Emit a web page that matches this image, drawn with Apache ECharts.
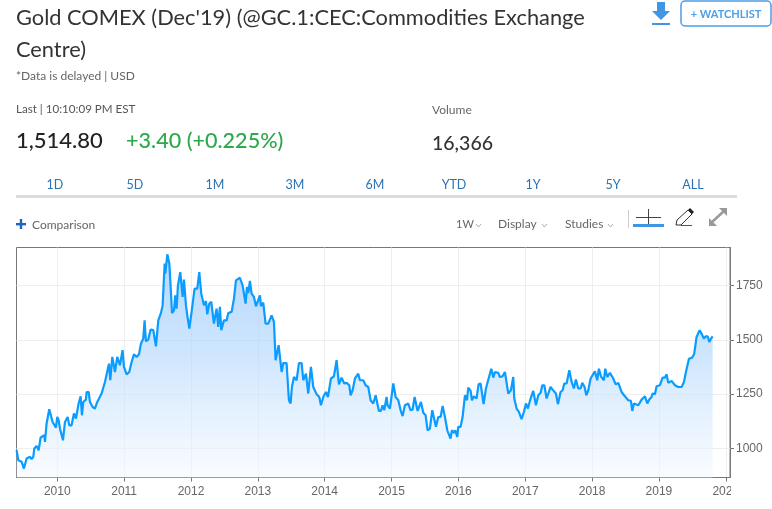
<!DOCTYPE html>
<html>
<head>
<meta charset="utf-8">
<title>Gold COMEX</title>
<script src="https://cdn.jsdelivr.net/npm/echarts@6/dist/echarts.min.js"></script>
<style>
html, body { margin: 0; padding: 0; background: #fff; }
#main { width: 772px; height: 509px; }
</style>
</head>
<body>
<div id="main"></div>
<script>
// position in decimal years, price in USD
var years2009 = [2009.392,2009.417,2009.467,2009.501,2009.541,2009.591,2009.616,2009.641,2009.656,2009.691,2009.721,2009.751,2009.806,2009.816,2009.840,2009.880,2009.905,2009.930,2009.980];
var closes2009 = [992,946,939,908,954,962,951,962,1000,1012,992,1051,1061,1031,1115,1181,1173,1122,1096];
var years2010 = [2010.000,2010.020,2010.040,2010.065,2010.085,2010.115,2010.155,2010.179,2010.214,2010.249,2010.279,2010.319,2010.349,2010.369,2010.389,2010.429,2010.439,2010.469,2010.489,2010.529,2010.563,2010.598,2010.663,2010.713,2010.773,2010.793,2010.823,2010.863,2010.897,2010.937,2010.977,2010.997];
var closes2010 = [1145,1130,1092,1084,1038,1122,1145,1107,1107,1161,1138,1207,1240,1153,1214,1225,1260,1260,1214,1191,1184,1214,1253,1306,1390,1314,1421,1352,1421,1383,1452,1375];
var years2011 = [2011.037,2011.077,2011.112,2011.147,2011.187,2011.222,2011.251,2011.286,2011.306,2011.326,2011.361,2011.396,2011.436,2011.476,2011.511,2011.551,2011.576,2011.606,2011.616,2011.646,2011.676,2011.696,2011.716,2011.746,2011.765,2011.785,2011.805,2011.840,2011.875,2011.895,2011.925,2011.945,2011.975];
var closes2011 = [1341,1352,1398,1433,1421,1433,1482,1505,1589,1493,1501,1547,1544,1470,1589,1623,1658,1850,1804,1893,1850,1743,1623,1635,1704,1643,1750,1811,1697,1776,1658,1612,1551];
var years2012 = [2012.009,2012.054,2012.094,2012.124,2012.154,2012.194,2012.224,2012.244,2012.274,2012.304,2012.343,2012.383,2012.408,2012.433,2012.453,2012.493,2012.533,2012.558,2012.608,2012.643,2012.673,2012.732,2012.772,2012.817,2012.837,2012.857,2012.882,2012.907,2012.942,2012.972,2012.997];
var closes2012 = [1628,1735,1735,1811,1712,1658,1678,1617,1666,1674,1574,1643,1559,1651,1544,1589,1589,1623,1628,1689,1773,1785,1750,1666,1743,1715,1770,1712,1697,1654,1651];
var years2013 = [2013.032,2013.046,2013.081,2013.116,2013.156,2013.206,2013.241,2013.266,2013.311,2013.356,2013.381,2013.430,2013.465,2013.490,2013.510,2013.540,2013.580,2013.615,2013.655,2013.680,2013.720,2013.754,2013.794,2013.829,2013.854,2013.879,2013.919,2013.944,2013.979];
var closes2013 = [1704,1655,1671,1574,1574,1612,1582,1406,1475,1352,1393,1393,1222,1207,1283,1329,1314,1393,1393,1314,1344,1253,1375,1283,1291,1250,1237,1199,1237];
var years2014 = [2014.019,2014.049,2014.094,2014.138,2014.178,2014.213,2014.253,2014.293,2014.328,2014.368,2014.388,2014.418,2014.453,2014.502,2014.527,2014.577,2014.612,2014.652,2014.687,2014.727,2014.762,2014.787,2014.811,2014.841,2014.866,2014.891,2014.926,2014.941,2014.976];
var closes2014 = [1260,1237,1322,1332,1406,1295,1326,1299,1302,1291,1245,1268,1322,1344,1314,1314,1291,1283,1222,1207,1245,1237,1173,1173,1199,1176,1237,1199,1184];
var years2015 = [2015.026,2015.061,2015.101,2015.136,2015.165,2015.200,2015.250,2015.285,2015.315,2015.345,2015.390,2015.440,2015.475,2015.510,2015.539,2015.574,2015.609,2015.664,2015.699,2015.734,2015.764,2015.799,2015.834,2015.883,2015.903,2015.933,2015.953,2015.983,2015.998];
var closes2015 = [1299,1237,1222,1176,1149,1199,1207,1176,1179,1237,1173,1214,1165,1153,1084,1092,1176,1100,1145,1145,1196,1145,1084,1046,1084,1072,1084,1054,1100];
var years2016 = [2016.033,2016.063,2016.098,2016.128,2016.148,2016.183,2016.203,2016.233,2016.272,2016.302,2016.332,2016.377,2016.412,2016.452,2016.492,2016.522,2016.547,2016.596,2016.621,2016.661,2016.696,2016.746,2016.786,2016.821,2016.836,2016.871,2016.906,2016.945,2016.980];
var closes2016 = [1100,1145,1245,1222,1280,1265,1222,1240,1230,1295,1299,1204,1276,1322,1367,1326,1352,1348,1329,1332,1352,1253,1268,1329,1230,1184,1168,1135,1168];
var years2017 = [2017.010,2017.040,2017.080,2017.120,2017.160,2017.195,2017.230,2017.255,2017.285,2017.320,2017.349,2017.379,2017.409,2017.459,2017.489,2017.529,2017.559,2017.584,2017.619,2017.659,2017.694,2017.728,2017.758,2017.793,2017.828,2017.853,2017.888,2017.913,2017.943,2017.978];
var closes2017 = [1207,1184,1230,1265,1199,1245,1256,1291,1291,1230,1234,1283,1271,1253,1204,1260,1268,1299,1299,1360,1306,1276,1317,1276,1276,1302,1283,1245,1268,1322];
var years2018 = [2018.042,2018.077,2018.102,2018.132,2018.177,2018.197,2018.227,2018.267,2018.317,2018.352,2018.392,2018.441,2018.491,2018.541,2018.581,2018.601,2018.626,2018.691,2018.741,2018.791,2018.826,2018.855,2018.890,2018.905,2018.940,2018.965];
var closes2018 = [1355,1314,1367,1332,1314,1367,1329,1348,1322,1295,1302,1260,1240,1222,1219,1173,1207,1199,1225,1240,1207,1225,1237,1253,1250,1286];
var years2019 = [2019.015,2019.055,2019.090,2019.115,2019.139,2019.189,2019.239,2019.289,2019.339,2019.374,2019.404,2019.424,2019.449,2019.473,2019.498,2019.528,2019.563,2019.608,2019.638,2019.673,2019.698,2019.728,2019.753,2019.778,2019.803];
var closes2019 = [1291,1326,1326,1341,1302,1311,1291,1283,1283,1306,1352,1352,1413,1421,1418,1436,1513,1544,1528,1505,1516,1516,1490,1505,1516];

var yearTicks = [2010, 2011, 2012, 2013, 2014, 2015, 2016, 2017, 2018, 2019, 2020];
var priceTicks = [1000, 1250, 1500, 1750];
var rangeTabs = ['1D', '5D', '1M', '3M', '6M', 'YTD', '1Y', '5Y', 'ALL'];
var tabCenters = [55, 135, 215, 295, 375, 454, 533, 613, 693];

var allYears = [].concat(years2009, years2010, years2011, years2012, years2013, years2014, years2015, years2016, years2017, years2018, years2019);
var allCloses = [].concat(closes2009, closes2010, closes2011, closes2012, closes2013, closes2014, closes2015, closes2016, closes2017, closes2018, closes2019);
var seriesData = allYears.map(function (y, i) { return [y, allCloses[i]]; });

var uiFont = 'Lato, "Open Sans", sans-serif';
var axisFont = '"Liberation Sans", Arial, sans-serif';

function label(text, x, y, size, color, align, weight) {
    return {
        type: 'text', x: x, y: y, silent: true, z: 10,
        style: {
            text: text, fill: color, fontFamily: uiFont, fontSize: size,
            fontWeight: weight || 'normal', textAlign: align || 'left', textVerticalAlign: 'middle'
        }
    };
}
function chevron(x, y) {
    return {
        type: 'polyline', silent: true, z: 10,
        shape: { points: [[x, y], [x + 2.5, y + 3], [x + 5, y]] },
        style: { stroke: '#aaa', lineWidth: 1, fill: null }
    };
}

var header = [
    label("Gold COMEX (Dec'19) (@GC.1:CEC:Commodities Exchange", 16, 18, 21.8, '#333'),
    label('Centre)', 16, 50, 21.8, '#333'),
    label('*Data is delayed | USD', 16, 76, 12, '#666'),
    label('Last | 10:10:09 PM EST', 16, 109, 11.6, '#555'),
    label('Volume', 432, 110, 12, '#666'),
    label('1,514.80', 16, 141, 22, '#222', 'left', 500),
    label('+3.40 (+0.225%)', 126, 141, 21.6, '#2ea84a', 'left', 500),
    label('16,366', 432, 144, 19.5, '#333', 'left', 500),
    label('+ WATCHLIST', 726, 14, 11, '#4a9fe8', 'center', 'bold'),
    // watchlist button
    { type: 'rect', silent: true, shape: { x: 681, y: 1, width: 90, height: 25, r: 4 }, style: { fill: null, stroke: '#4a9fe8', lineWidth: 1.5 } },
    // download icon
    { type: 'polygon', silent: true, shape: { points: [[657, 2], [665, 2], [665, 11], [670, 11], [661, 20], [652, 11], [657, 11]] }, style: { fill: '#3f97e4' } },
    { type: 'rect', silent: true, shape: { x: 652, y: 23, width: 18, height: 2 }, style: { fill: '#3f97e4' } },
    // tab underline
    { type: 'rect', silent: true, shape: { x: 16, y: 195, width: 721, height: 3 }, style: { fill: '#dcdcdc' } },
    // comparison plus
    { type: 'rect', silent: true, shape: { x: 16, y: 223, width: 10, height: 2.4 }, style: { fill: '#1f62c4' } },
    { type: 'rect', silent: true, shape: { x: 19.8, y: 219, width: 2.4, height: 10 }, style: { fill: '#1f62c4' } },
    label('Comparison', 32, 225, 12, '#666'),
    label('1W', 456, 224, 11, '#666'), chevron(476, 224),
    label('Display', 498, 224, 12, '#666'), chevron(542, 224),
    label('Studies', 565, 224, 12, '#666'), chevron(608, 224),
    // crosshair tool
    { type: 'rect', silent: true, shape: { x: 628, y: 210, width: 1, height: 18 }, style: { fill: '#ccc' } },
    { type: 'rect', silent: true, shape: { x: 636, y: 217, width: 25, height: 1 }, style: { fill: '#444' } },
    { type: 'rect', silent: true, shape: { x: 648, y: 209, width: 1, height: 15 }, style: { fill: '#444' } },
    { type: 'rect', silent: true, shape: { x: 633, y: 224, width: 31, height: 3 }, style: { fill: '#3f97e4' } },
    // pencil tool
    { type: 'polygon', silent: true, shape: { points: [[676, 225], [677, 220], [688, 210], [692, 214], [681, 225]] }, style: { fill: '#fff', stroke: '#333', lineWidth: 1 } },
    { type: 'polygon', silent: true, shape: { points: [[688, 210], [690, 208], [694, 212], [692, 214]] }, style: { fill: '#222' } },
    { type: 'rect', silent: true, shape: { x: 681, y: 225, width: 11, height: 1 }, style: { fill: '#555' } },
    // expand tool
    { type: 'polyline', silent: true, shape: { points: [[711, 223], [724, 211]] }, style: { stroke: '#999', lineWidth: 2.5, fill: null } },
    { type: 'polygon', silent: true, shape: { points: [[719, 208], [727, 208], [727, 216]] }, style: { fill: '#999' } },
    { type: 'polygon', silent: true, shape: { points: [[709, 218], [709, 226], [717, 226]] }, style: { fill: '#999' } },
    // the last year label runs out of the chart frame
    { type: 'rect', silent: true, z: 20, shape: { x: 731, y: 479, width: 41, height: 25 }, style: { fill: '#fff' } }
];
rangeTabs.forEach(function (t, i) {
    header.push(label(t, tabCenters[i], 185, 12.5, '#2b72b5', 'center'));
});

var chart = echarts.init(document.getElementById('main'), null, { renderer: 'canvas' });
chart.setOption({
    animation: false,
    backgroundColor: '#fff',
    grid: {
        left: 16.5, top: 247.5, width: 713.5, height: 230,
        show: true, borderColor: '#777', borderWidth: 1, backgroundColor: 'transparent', containLabel: false
    },
    xAxis: {
        type: 'value',
        min: 2009.39,
        max: 2020.063,
        axisLine: { show: true, lineStyle: { color: '#777' } },
        axisTick: { show: true, length: 4, lineStyle: { color: '#777' }, customValues: yearTicks },
        axisLabel: {
            color: '#666', fontFamily: axisFont, fontSize: 12, margin: 8,
            customValues: yearTicks, hideOverlap: false,
            formatter: function (v) { return String(v); }
        },
        splitLine: { show: true, lineStyle: { color: '#eeeeee' } }
    },
    yAxis: {
        type: 'value',
        position: 'right',
        min: 867,
        max: 1924,
        axisLine: { show: true, lineStyle: { color: '#777' } },
        axisTick: { show: true, length: 4, lineStyle: { color: '#777' }, customValues: priceTicks },
        axisLabel: {
            color: '#666', fontFamily: axisFont, fontSize: 12, margin: 6, customValues: priceTicks,
            formatter: function (v) { return String(v); }
        },
        splitLine: { show: true, lineStyle: { color: '#eeeeee' } }
    },
    series: [{
        type: 'line',
        data: seriesData,
        showSymbol: false,
        smooth: false,
        lineStyle: { color: '#0a9cff', width: 2.2 },
        areaStyle: {
            origin: 'start',
            color: new echarts.graphic.LinearGradient(0, 0, 0, 1, [
                { offset: 0, color: 'rgba(148,196,251,0.95)' },
                { offset: 0.45, color: 'rgba(180,216,253,0.92)' },
                { offset: 1, color: 'rgba(245,250,255,0.8)' }
            ])
        }
    }],
    graphic: header
});
</script>
</body>
</html>
